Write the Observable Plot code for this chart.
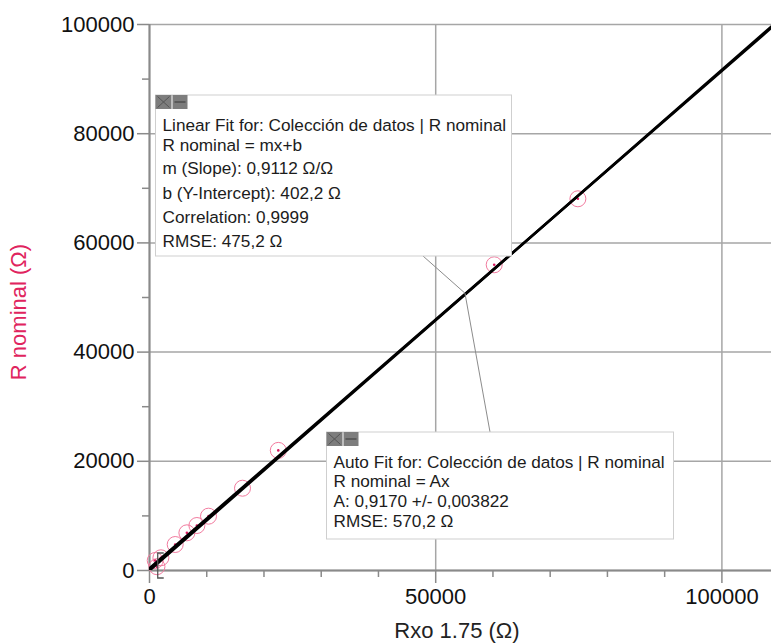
<!DOCTYPE html>
<html>
<head>
<meta charset="utf-8">
<script src="https://cdn.jsdelivr.net/npm/d3@7"></script>
<script src="https://cdn.jsdelivr.net/npm/@observablehq/plot@0.6"></script>
<style>
  html, body { margin: 0; padding: 0; background: #fff; }
  #chart { width: 771px; height: 644px; overflow: hidden; }
</style>
</head>
<body>
<div id="chart"></div>
<script>
// ---- data ----
const rxo      = [74840, 60220, 22500, 16250, 10310, 8280, 6530, 4490, 1990, 1000, 1300];
const rNominal = [68080, 55990, 22000, 15070, 9950, 8240, 6900, 4760, 2330, 1830, 700];

const xMajorTicks = [0, 50000, 100000];
const xMinorTicks = [10000, 20000, 30000, 40000, 60000, 70000, 80000, 90000];
const yMajorTicks = [0, 20000, 40000, 60000, 80000, 100000];
const yMinorTicks = [10000, 30000, 50000, 70000, 90000];

// fit parameters shown in the annotations
const linearFit = { m: 0.9112, b: 402.2 };
const autoFit   = { A: 0.9170 };
const fitRange  = [0, 108665];

const linearLines = [
  "Linear Fit for: Colección de datos | R nominal",
  "R nominal = mx+b",
  "m (Slope): 0,9112 Ω/Ω",
  "b (Y-Intercept): 402,2 Ω",
  "Correlation: 0,9999",
  "RMSE: 475,2 Ω"
];
const autoLines = [
  "Auto Fit for: Colección de datos | R nominal",
  "R nominal = Ax",
  "A: 0,9170 +/- 0,003822",
  "RMSE: 570,2 Ω"
];
const xLabel = "Rxo 1.75 (Ω)";
const yLabel = "R nominal (Ω)";

// ---- build tables ----
const points = rxo.map((x, i) => ({ x, y: rNominal[i] }));
const linearPts = fitRange.map(x => ({ x, y: linearFit.m * x + linearFit.b }));
const autoPts = fitRange.map(x => ({ x, y: autoFit.A * x }));

const font = "'Liberation Sans', Arial, sans-serif";
const gridColor = "#a6a6a6";
const axisColor = "#8a8a8a";
const fmt = d => String(d);

const chart = Plot.plot({
  width: 771,
  height: 644,
  marginLeft: 149,
  marginRight: 0,
  marginTop: 24,
  marginBottom: 74,
  style: { fontFamily: font, fontSize: "22px", color: "#111", background: "#fff" },
  x: { domain: [0, 108665], label: null },
  y: { domain: [0, 100000], label: null },
  marks: [
    Plot.gridX(xMajorTicks, { stroke: gridColor, strokeOpacity: 1, strokeWidth: 1.5 }),
    Plot.gridY(yMajorTicks, { stroke: gridColor, strokeOpacity: 1, strokeWidth: 1.5 }),
    Plot.ruleY([0], { stroke: axisColor, strokeWidth: 2 }),
    Plot.ruleX([0], { stroke: axisColor, strokeWidth: 2 }),
    Plot.axisX({ ticks: xMajorTicks, tickSize: 13, tickPadding: 5, tickFormat: fmt, stroke: axisColor, strokeWidth: 1.5, label: null }),
    Plot.axisX({ ticks: xMinorTicks, tickSize: 7, tickFormat: () => "", stroke: axisColor, strokeWidth: 1.5, label: null }),
    Plot.axisY({ ticks: yMajorTicks, tickSize: 12, tickPadding: 3, tickFormat: fmt, stroke: axisColor, strokeWidth: 1.5, label: null }),
    Plot.axisY({ ticks: yMinorTicks, tickSize: 7, tickFormat: () => "", stroke: axisColor, strokeWidth: 1.5, label: null }),
    Plot.dot(points, { x: "x", y: "y", r: 8, stroke: "#f27a9e", strokeWidth: 1, fill: "none" }),
    Plot.dot(points, { x: "x", y: "y", r: 1.3, fill: "#d81b60", stroke: "none" }),
    Plot.line(linearPts, { x: "x", y: "y", stroke: "#000", strokeWidth: 2.6, clip: true }),
    Plot.line(autoPts, { x: "x", y: "y", stroke: "#000", strokeWidth: 2.6, clip: true })
  ]
});

document.getElementById("chart").appendChild(chart);

// ---- annotations (drawn on top, using the chart scales) ----
const sx = chart.scale("x"), sy = chart.scale("y");
const svg = d3.select(chart);
const g = svg.append("g").attr("text-anchor", "start");

// fit-range bracket at the smallest x value
const bx = sx.apply(d3.min(rxo)) + 3;
g.append("path")
  .attr("d", `M${bx + 6},553 H${bx} V578 H${bx + 6}`)
  .attr("fill", "none").attr("stroke", "#555").attr("stroke-width", 1.3);

// leader lines to a point on the fit line
const ax = 55200;
const apx = sx.apply(ax), apy = sy.apply(linearFit.m * ax + linearFit.b);
g.append("line").attr("x1", 423).attr("y1", 256).attr("x2", apx).attr("y2", apy)
  .attr("stroke", "#8c8c8c").attr("stroke-width", 1);
g.append("line").attr("x1", 490).attr("y1", 432).attr("x2", apx).attr("y2", apy)
  .attr("stroke", "#8c8c8c").attr("stroke-width", 1);

function box(x, y, w, h, lines, baselines) {
  const b = g.append("g");
  b.append("rect").attr("x", x).attr("y", y).attr("width", w).attr("height", h)
    .attr("fill", "#fff").attr("stroke", "#cfcfcf").attr("stroke-width", 1);
  // header icons
  b.append("rect").attr("x", x).attr("y", y).attr("width", 16).attr("height", 14).attr("fill", "#7d7d7d");
  b.append("rect").attr("x", x + 17).attr("y", y).attr("width", 15).attr("height", 14).attr("fill", "#7d7d7d");
  b.append("path").attr("d", `M${x + 2},${y + 1.5} L${x + 14},${y + 12.5} M${x + 14},${y + 1.5} L${x + 2},${y + 12.5}`)
    .attr("stroke", "#555").attr("stroke-width", 1);
  b.append("path").attr("d", `M${x + 19},${y + 7} H${x + 30}`).attr("stroke", "#444").attr("stroke-width", 1.2);
  lines.forEach((t, i) => {
    b.append("text").attr("x", x + 7).attr("y", baselines[i]).attr("text-anchor", "start")
      .attr("font-family", font).attr("font-size", "17.2px").attr("fill", "#1c1c1c").text(t);
  });
}
box(155.5, 95, 356, 161, linearLines, [131, 150.5, 174, 198.5, 222.5, 247]);
box(326.5, 432, 347, 107, autoLines, [467.5, 487, 506.5, 527]);

// axis titles
svg.append("text").attr("x", 457).attr("y", 638).attr("text-anchor", "middle")
  .attr("font-family", font).attr("font-size", "22px").attr("fill", "#222").text(xLabel);
svg.append("text").attr("transform", "translate(26,312) rotate(-90)").attr("text-anchor", "middle")
  .attr("font-family", font).attr("font-size", "22px").attr("fill", "#e0245e").text(yLabel);
</script>
</body>
</html>
